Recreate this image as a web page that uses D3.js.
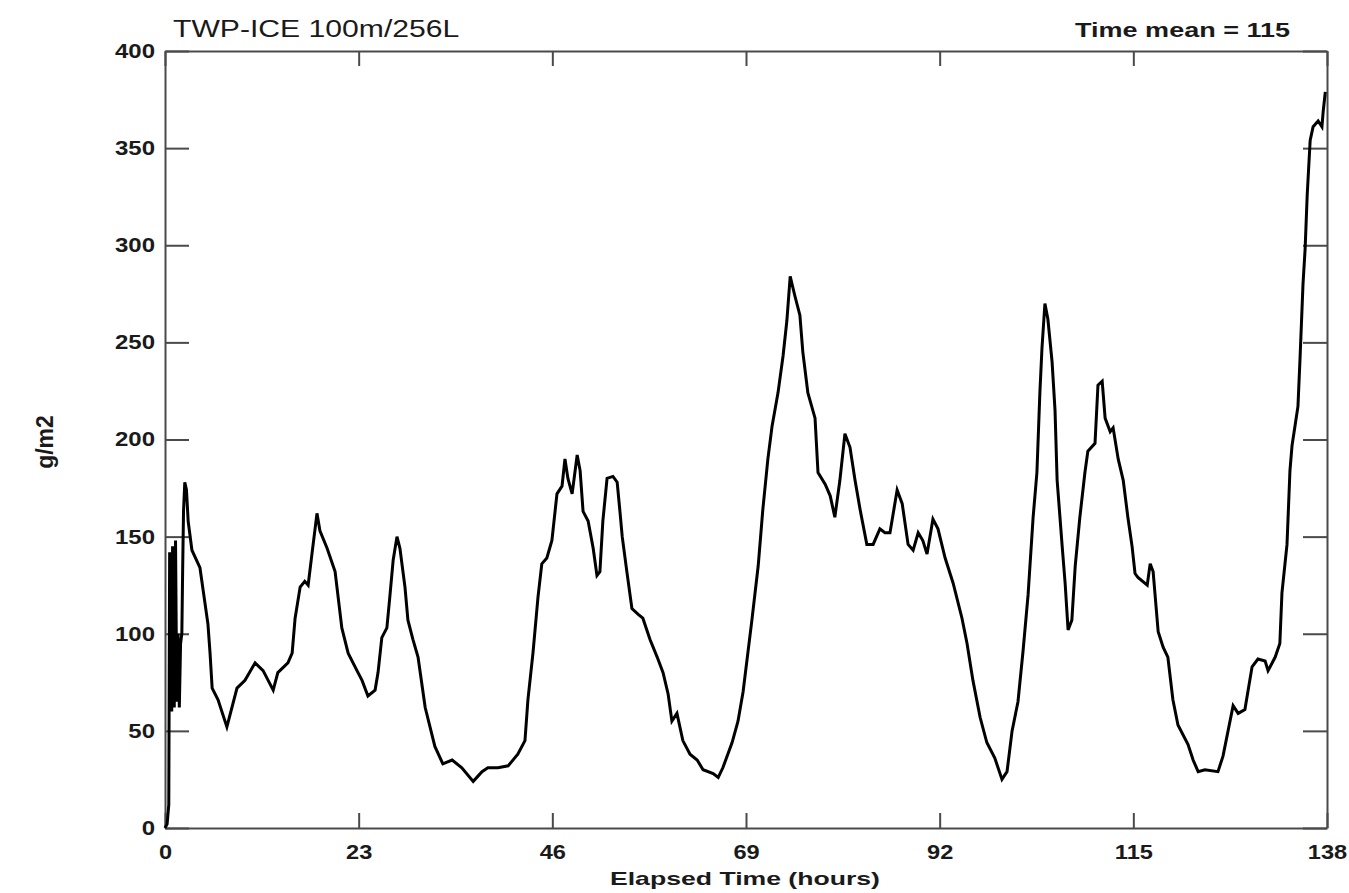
<!DOCTYPE html>
<html lang="en">
<head>
  <meta charset="UTF-8">
  <title>TWP-ICE 100m/256L</title>
  <script src="https://d3js.org/d3.v7.min.js"></script>
  <style>
    body { margin: 0; background: #fff; }
    text { font-family: "Liberation Sans", Arial, sans-serif; fill: #1a1a1a; }
    .axis path, .axis line { stroke: #4a4a4a; stroke-width: 2; }
  </style>
</head>
<body>
  <div id="chart"></div>
  <script>
    // elapsed time (hours) and path value (g/m2)
    const hours = [
      0, 0.25, 0.45, 0.55, 0.7, 0.8, 0.9, 1.0, 1.1, 1.25, 1.4, 1.55, 1.7, 1.85, 2.0, 2.1, 2.2, 2.35, 2.55, 2.75,
      3.2, 4.15, 5.1, 5.35, 5.6, 6.3, 7.35, 8.55, 9.5, 10.7, 11.65, 12.85, 13.4, 14.6, 15.1, 15.45, 16.05, 16.6, 17.0, 17.45,
      18.05, 18.4, 19.25, 20.2, 21.0, 21.75, 22.8, 23.4, 24.1, 24.95, 25.3, 25.75, 26.35, 26.7, 27.1, 27.55, 27.9, 28.5, 28.85, 29.45,
      30.05, 30.9, 32.05, 33.0, 34.1, 35.25, 36.6, 37.65, 38.35, 39.55, 40.75, 41.9, 42.75, 43.1, 43.7, 44.3, 44.75, 45.35, 45.95, 46.55,
      47.15, 47.5, 47.85, 48.35, 48.95, 49.3, 49.65, 50.25, 50.85, 51.3, 51.65, 52.0, 52.5, 53.2, 53.7, 54.05, 54.3, 54.85, 55.45, 56.2,
      56.75, 57.6, 58.45, 59.15, 59.75, 60.2, 60.8, 61.5, 62.35, 63.2, 63.9, 65.1, 65.7, 66.25, 67.35, 68.05, 68.65, 69.7, 70.45, 71.0,
      71.6, 72.1, 72.8, 73.4, 73.85, 74.25, 74.8, 75.4, 75.75, 76.35, 77.2, 77.55, 78.4, 79.0, 79.55, 80.15, 80.75, 81.35, 81.95, 82.55,
      83.35, 84.1, 84.9, 85.5, 86.1, 86.95, 87.55, 88.25, 88.85, 89.45, 90.0, 90.5, 91.2, 91.8, 92.65, 93.6, 94.65, 95.25, 95.95, 96.8,
      97.6, 98.55, 99.4, 100.0, 100.6, 101.3, 101.9, 102.5, 103.1, 103.55, 103.9, 104.15, 104.5, 104.85, 105.35, 105.7, 105.95, 106.55, 106.9, 107.25,
      107.7, 108.1, 108.65, 109.25, 109.6, 110.45, 110.8, 111.3, 111.65, 112.25, 112.6, 113.2, 113.8, 114.35, 114.85, 115.2, 115.55, 116.65, 117.0, 117.35,
      117.95, 118.55, 119.1, 119.7, 120.3, 121.5, 122.1, 122.7, 123.5, 125.05, 125.65, 126.25, 126.85, 127.45, 128.25, 129.1, 129.8, 130.65, 131.0, 131.85,
      132.4, 132.65, 133.25, 133.6, 133.85, 134.2, 134.55, 134.8, 135.15, 135.4, 135.65, 136.0, 136.35, 136.95, 137.4, 137.55, 137.8
    ];
    const lwp = [
      0, 2, 12, 142, 70, 60, 145, 95, 62, 148, 65, 100, 62, 95, 100, 134, 163, 178, 174, 158,
      143, 134, 105, 90, 72, 66, 52, 72, 76, 85, 81, 71, 80, 85, 90, 108, 124, 127, 125, 141,
      162, 153, 144, 132, 103, 90, 81, 76, 68, 71, 80, 98, 103, 119, 138, 150, 144, 124, 107, 97,
      88, 62, 42, 33, 35, 31, 24, 29, 31, 31, 32, 38, 45, 66, 90, 119, 136, 139, 148, 172,
      176, 190, 180, 172, 192, 184, 163, 158, 144, 130, 132, 158, 180, 181, 178, 162, 150, 132, 113, 110,
      108, 97, 88, 80, 69, 55, 59, 45, 38, 35, 30, 28, 26, 31, 44, 55, 70, 107, 135, 164,
      190, 207, 224, 243, 261, 284, 274, 264, 245, 224, 211, 183, 177, 171, 160, 179, 203, 196, 179, 164,
      146, 146, 154, 152, 152, 174, 167, 146, 143, 152, 148, 141, 159, 154, 139, 126, 108, 95, 76, 57,
      44, 36, 25, 29, 50, 65, 91, 120, 160, 183, 224, 247, 270, 262, 240, 215, 179, 145, 126, 102,
      107, 135, 160, 183, 194, 198, 228, 230, 211, 204, 206, 190, 179, 160, 145, 131, 129, 125, 136, 132,
      101, 93, 88, 66, 53, 43, 35, 29, 30, 29, 37, 50, 63, 59, 61, 83, 87, 86, 81, 88,
      95, 121, 146, 184, 197, 207, 217, 242, 280, 298, 326, 354, 361, 364, 361, 369, 379
    ];
    const xTicks = [0, 23, 46, 69, 92, 115, 138];
    const yTicks = [0, 50, 100, 150, 200, 250, 300, 350, 400];
    const title = "TWP-ICE 100m/256L";
    const meanLabel = "Time mean = 115";
    const xLabel = "Elapsed Time (hours)";
    const yLabel = "g/m2";

    const width = 1349, height = 893;
    const margin = { top: 51, right: 22, bottom: 65, left: 165 };
    const w = width - margin.left - margin.right;
    const h = height - margin.top - margin.bottom;

    const svg = d3.select("#chart").append("svg")
      .attr("width", width).attr("height", height);
    const g = svg.append("g").attr("transform", `translate(${margin.left},${margin.top})`);

    const x = d3.scaleLinear().domain([0, 138]).range([0, w]);
    const y = d3.scaleLinear().domain([0, 400]).range([h, 0]);

    // stretch text horizontally, the original is wide and flat
    function stretch(sel, k) {
      sel.each(function() {
        const len = this.getComputedTextLength();
        this.setAttribute("textLength", len * k);
        this.setAttribute("lengthAdjust", "spacingAndGlyphs");
      });
    }

    // axes with inward ticks
    const xb = g.append("g").attr("class", "axis").attr("transform", `translate(0,${h})`)
      .call(d3.axisBottom(x).tickValues(xTicks).tickSizeInner(-15).tickSizeOuter(0).tickPadding(17));
    const xt = g.append("g").attr("class", "axis")
      .call(d3.axisTop(x).tickValues(xTicks).tickSizeInner(-15).tickSizeOuter(0).tickFormat(""));
    const yl = g.append("g").attr("class", "axis")
      .call(d3.axisLeft(y).tickValues(yTicks).tickSizeInner(-24).tickSizeOuter(0).tickPadding(10));
    const yr = g.append("g").attr("class", "axis").attr("transform", `translate(${w},0)`)
      .call(d3.axisRight(y).tickValues(yTicks).tickSizeInner(-24).tickSizeOuter(0).tickFormat(""));

    [xb, yl].forEach(a => a.selectAll("text")
      .style("font-size", "20px").style("font-weight", "bold").style("fill", "#1a1a1a"));
    xb.selectAll("text").call(stretch, 1.18);
    yl.selectAll("text").call(stretch, 1.2);

    // data line
    const line = d3.line().x((d, i) => x(hours[i])).y(d => y(d));
    g.append("path")
      .datum(lwp)
      .attr("fill", "none")
      .attr("stroke", "#000")
      .attr("stroke-width", 3)
      .attr("stroke-linejoin", "miter")
      .attr("d", line);

    // labels
    svg.append("text").attr("x", 173).attr("y", 37)
      .style("font-size", "23px")
      .text(title).call(stretch, 1.31);

    svg.append("text").attr("x", 1290).attr("y", 37).attr("text-anchor", "end")
      .style("font-size", "20px").style("font-weight", "bold")
      .text(meanLabel).call(stretch, 1.35);

    svg.append("text").attr("x", margin.left + w * 0.5 - 1).attr("y", 885).attr("text-anchor", "middle")
      .style("font-size", "19px").style("font-weight", "bold")
      .text(xLabel).call(stretch, 1.4);

    svg.append("text").attr("transform", "translate(53,442) rotate(-90)").attr("text-anchor", "middle")
      .style("font-size", "23px").style("font-weight", "bold")
      .text(yLabel);
  </script>
</body>
</html>
